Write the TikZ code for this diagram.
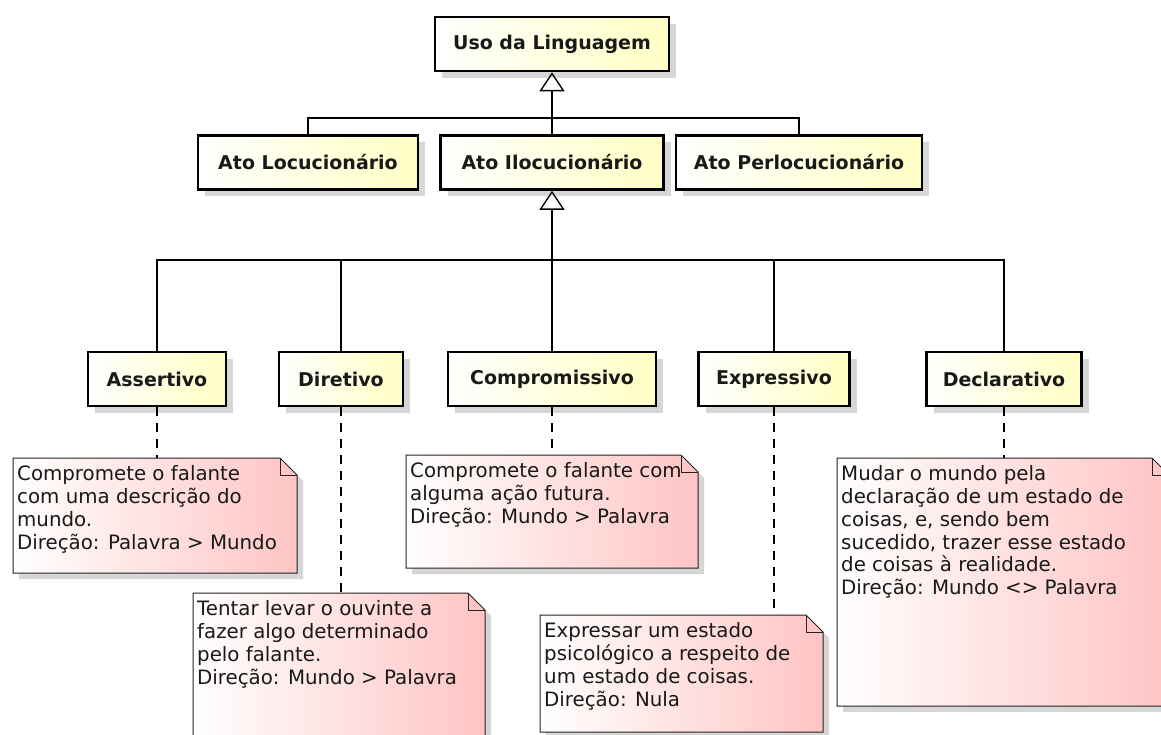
\documentclass[tikz,border=0pt]{standalone}
\usepackage{fontspec}
\setmainfont{DejaVu Sans}
\usetikzlibrary{arrows.meta,shadows}
\definecolor{boxy}{RGB}{255,255,196}
\definecolor{notep}{RGB}{255,196,196}
\definecolor{shadowc}{RGB}{214,214,214}
\definecolor{notebd}{RGB}{35,35,35}
\definecolor{txt}{RGB}{25,25,25}
\begin{document}
\begin{tikzpicture}[x=1pt,y=-1pt,
  cls/.style={draw=black, line width=2.6pt, left color=white, right color=boxy,
    minimum height=54pt, inner sep=0pt, text=txt,
    font=\fontsize{19}{22}\selectfont\bfseries,
    drop shadow={shadow xshift=7pt, shadow yshift=-7pt, fill=shadowc, opacity=1}},
  conn/.style={draw=black, line width=1.3pt},
  gen/.style={conn, -{Triangle[open, length=19pt, width=25pt, line width=1.3pt]}},
  dashconn/.style={draw=black, line width=1.3pt, dash pattern=on 9pt off 7pt},
  notebox/.style={inner sep=0pt, outer sep=0pt, draw=none, anchor=north west},
  notetext/.style={anchor=north west, align=left, inner sep=0pt,
    font=\fontsize{19.8}{22.8}\selectfont, text=txt}
]
\useasboundingbox (0,0) rectangle (1161,735);
\clip (0,0) rectangle (1161,735);

% ---- notes (shapes) ----
\node[notebox, minimum width=284pt, minimum height=115pt] (n1) at (13,458) {};
\node[notebox, minimum width=292pt, minimum height=170pt] (n2) at (193,593) {};
\node[notebox, minimum width=292pt, minimum height=113pt] (n3) at (406,455) {};
\node[notebox, minimum width=283pt, minimum height=117pt] (n4) at (540,615) {};
\node[notebox, minimum width=332pt, minimum height=248pt] (n5) at (837,458) {};

\foreach \n in {n1,n2,n3,n4,n5}{
  \fill[shadowc] ([shift={(6,6)}]\n.north west) -- ([shift={(-11,6)}]\n.north east)
     -- ([shift={(6,23)}]\n.north east) -- ([shift={(6,6)}]\n.south east)
     -- ([shift={(6,6)}]\n.south west) -- cycle;
  \shadedraw[left color=white, right color=notep, draw=notebd, line width=1pt]
     (\n.north west) -- ([shift={(-17,0)}]\n.north east) -- ([shift={(0,17)}]\n.north east)
     -- (\n.south east) -- (\n.south west) -- cycle;
  \draw[notebd, line width=1pt] ([shift={(-17,0)}]\n.north east)
     -- ([shift={(-17,17)}]\n.north east) -- ([shift={(0,17)}]\n.north east);
}

\node[notetext] (t1) at ([shift={(4,7.5)}]n1.north west)
  {Compromete o falante\\com uma descrição do\\mundo.\\Direção: Palavra > Mundo};
\node[notetext] (t2) at ([shift={(4,7.5)}]n2.north west)
  {Tentar levar o ouvinte a\\fazer algo determinado\\pelo falante.\\Direção: Mundo > Palavra};
\node[notetext] (t3) at ([shift={(4,7.5)}]n3.north west)
  {Compromete o falante com\\alguma ação futura.\\Direção: Mundo > Palavra};
\node[notetext] (t4) at ([shift={(4,7.5)}]n4.north west)
  {Expressar um estado\\psicológico a respeito de\\um estado de coisas.\\Direção: Nula};
\node[notetext] (t5) at ([shift={(4,7.5)}]n5.north west)
  {Mudar o mundo pela\\declaração de um estado de\\coisas, e, sendo bem\\sucedido, trazer esse estado\\de coisas à realidade.\\Direção: Mundo <> Palavra};

% ---- class boxes ----
\node[cls, minimum width=234pt] (uso) at (552,44) {Uso da Linguagem};
\node[cls, minimum width=220pt] (loc) at (308,162.5) {Ato Locucionário};
\node[cls, minimum width=223pt] (ilo) at (552,162.5) {Ato Ilocucionário};
\node[cls, minimum width=246pt] (perl) at (799,162.5) {Ato Perlocucionário};

\node[cls, minimum width=138pt] (ass) at (157,379) {Assertivo};
\node[cls, minimum width=124pt] (dir) at (341,379) {Diretivo};
\node[cls, minimum width=208pt] (comp) at (552,379) {Compromissivo};
\node[cls, minimum width=151pt] (exp) at (774,379) {Expressivo};
\node[cls, minimum width=155pt] (dec) at (1004,379) {Declarativo};

% ---- generalisations ----
\coordinate (bar1) at (552,118);
\coordinate (bar2) at (552,260);
\draw[gen] (ilo.north) -- (uso.south);
\draw[conn] (loc.north) |- (bar1) -| (perl.north);
\draw[gen] (comp.north) -- (ilo.south);
\draw[conn] (ass.north) |- (bar2) -| (dec.north);
\draw[conn] (dir.north) -- (dir.north |- bar2);
\draw[conn] (exp.north) -- (exp.north |- bar2);

% ---- note anchors ----
\draw[dashconn] (ass.south) -- (ass.south |- n1.north);
\draw[dashconn] (dir.south) -- (dir.south |- n2.north);
\draw[dashconn] (comp.south) -- (comp.south |- n3.north);
\draw[dashconn] (exp.south) -- (exp.south |- n4.north);
\draw[dashconn] (dec.south) -- (dec.south |- n5.north);
\end{tikzpicture}
\end{document}
